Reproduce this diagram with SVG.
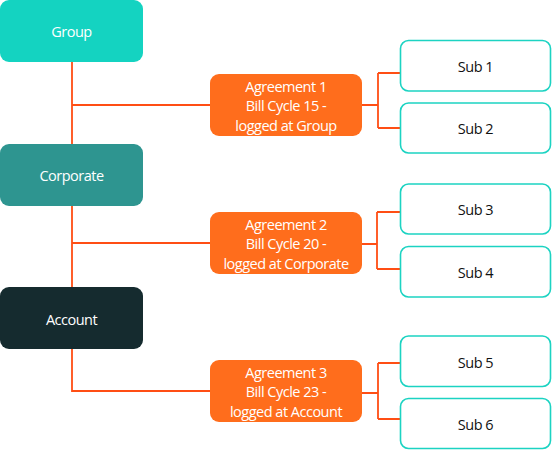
<svg xmlns="http://www.w3.org/2000/svg" width="552" height="450" viewBox="0 0 552 450">
<style>
  text { font-family: "Open Sans", "Noto Sans", "DejaVu Sans", sans-serif; font-size: 14.5px; letter-spacing: -0.5px; text-anchor: middle; dominant-baseline: central; }
  .w { fill: #ffffff; }
  .k { fill: #111111; }
  .conn { fill: none; stroke: #FF4E14; stroke-width: 1.8; }
  .agr { fill: #FF6D1C; }
  .sub { fill: #ffffff; stroke: #1CD3C2; stroke-width: 1.6; }
</style>
<rect width="552" height="450" fill="#ffffff"/>
<g id="connectors">
  <path class="conn" d="M72 62 V287 M72 105 H210 M72 243 H210 M72 349 V391 H210"/>
  <path class="conn" d="M362 105 H378 M378 73 V128 M378 73 H400 M378 128 H400"/>
  <path class="conn" d="M362 244 H377 M377 212 V269 M377 212 H400 M377 269 H400"/>
  <path class="conn" d="M362 393 H378 M378 363 V419 M378 363 H400 M378 419 H400"/>
</g>
<g id="group">
  <rect x="0" y="0" width="143" height="62" rx="9" fill="#14D3C1"/>
  <text class="w" x="71.5" y="31">Group</text>
</g>
<g id="corporate">
  <rect x="0" y="144" width="143" height="62" rx="9" fill="#2E9590"/>
  <text class="w" x="71.5" y="175">Corporate</text>
</g>
<g id="account">
  <rect x="0" y="287" width="143" height="62" rx="9" fill="#152B2F"/>
  <text class="w" x="71.5" y="319">Account</text>
</g>
<g id="agreement1">
  <rect class="agr" x="210" y="74" width="152" height="62" rx="9"/>
  <text class="w" x="286" y="86">Agreement 1</text>
  <text class="w" x="286" y="105.5">Bill Cycle 15 -</text>
  <text class="w" x="286" y="125">logged at Group</text>
</g>
<g id="agreement2">
  <rect class="agr" x="210" y="212" width="152" height="62" rx="9"/>
  <text class="w" x="286" y="224">Agreement 2</text>
  <text class="w" x="286" y="243.5">Bill Cycle 20 -</text>
  <text class="w" x="286" y="263">logged at Corporate</text>
</g>
<g id="agreement3">
  <rect class="agr" x="210" y="360" width="152" height="62" rx="9"/>
  <text class="w" x="286" y="372">Agreement 3</text>
  <text class="w" x="286" y="391.5">Bill Cycle 23 -</text>
  <text class="w" x="286" y="411">logged at Account</text>
</g>
<g id="sub1">
  <rect class="sub" x="400.5" y="40.5" width="150" height="50.5" rx="8"/>
  <text class="k" x="475.5" y="66">Sub 1</text>
</g>
<g id="sub2">
  <rect class="sub" x="400.5" y="103" width="150" height="50" rx="8"/>
  <text class="k" x="475.5" y="128">Sub 2</text>
</g>
<g id="sub3">
  <rect class="sub" x="400.5" y="184" width="150" height="50" rx="8"/>
  <text class="k" x="475.5" y="209.5">Sub 3</text>
</g>
<g id="sub4">
  <rect class="sub" x="400.5" y="246.5" width="150" height="50.5" rx="8"/>
  <text class="k" x="475.5" y="272">Sub 4</text>
</g>
<g id="sub5">
  <rect class="sub" x="400.5" y="336" width="150" height="50.5" rx="8"/>
  <text class="k" x="475.5" y="362">Sub 5</text>
</g>
<g id="sub6">
  <rect class="sub" x="400.5" y="398.5" width="150" height="50" rx="8"/>
  <text class="k" x="475.5" y="424">Sub 6</text>
</g>
</svg>
